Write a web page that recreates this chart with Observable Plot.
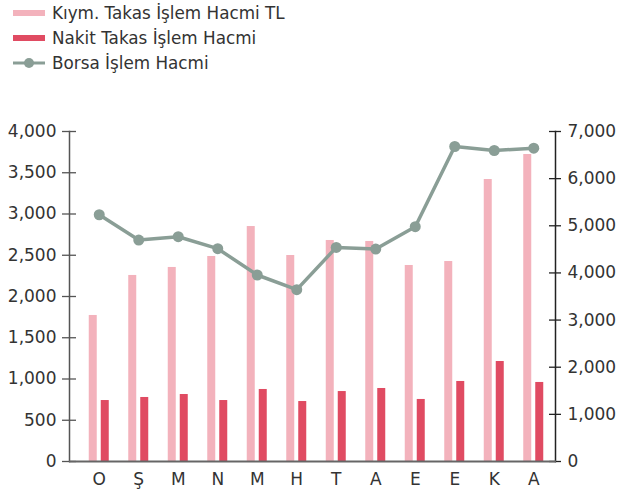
<!DOCTYPE html>
<html>
<head>
<meta charset="utf-8">
<script src="https://cdn.jsdelivr.net/npm/d3@7"></script>
<script src="https://cdn.jsdelivr.net/npm/@observablehq/plot@0.6"></script>
<style>
  body { margin: 0; background: #fff; font-family: "DejaVu Sans", sans-serif; }
  #legend { position: relative; height: 85px; width: 636px; }
  .item { position: absolute; left: 0; height: 20px; display: flex; align-items: center; font-size: 16.8px; color: #333; }
  .item span.label { position: absolute; left: 52px; white-space: nowrap; }
  .sw { position: absolute; left: 13px; width: 32px; }
</style>
</head>
<body>
<div id="legend"></div>
<div id="chart"></div>
<script>
const months = ["O", "Ş", "M", "N", "M", "H", "T", "A", "E", "E", "K", "A"];
const kiymTakas = [1770, 2255, 2352, 2485, 2848, 2497, 2679, 2667, 2376, 2424, 3418, 3721];
const nakitTakas = [739, 776, 812, 739, 873, 727, 848, 885, 752, 970, 1212, 958];
const borsa = [5234, 4698, 4768, 4514, 3956, 3645, 4541, 4507, 4980, 6682, 6597, 6647];
const leftTicks = [0, 500, 1000, 1500, 2000, 2500, 3000, 3500, 4000];
const rightTicks = [0, 1000, 2000, 3000, 4000, 5000, 6000, 7000];
const seriesNames = ["Kıym. Takas İşlem Hacmi TL", "Nakit Takas İşlem Hacmi", "Borsa İşlem Hacmi"];

const colPink = "#f3b2bc";
const colRed = "#e04b62";
const colGrey = "#8a9e96";
const ratio = 4000 / 7000;

// legend
const legend = document.getElementById("legend");
const rowsY = [3, 28, 53];
seriesNames.forEach((name, i) => {
  const it = document.createElement("div");
  it.className = "item";
  it.style.top = rowsY[i] + "px";
  it.style.width = "636px";
  let sw;
  if (i < 2) {
    sw = `<div class="sw" style="top:7px;height:6px;background:${i === 0 ? colPink : colRed}"></div>`;
  } else {
    sw = `<svg class="sw" style="top:0" width="32" height="20"><line x1="0" x2="32" y1="10" y2="10" stroke="${colGrey}" stroke-width="3"/><circle cx="16" cy="10" r="5" fill="${colGrey}"/></svg>`;
  }
  it.innerHTML = sw + `<span class="label">${name}</span>`;
  legend.appendChild(it);
});

const data = months.map((m, i) => ({i, m, k: kiymTakas[i], n: nakitTakas[i], b: borsa[i] * ratio}));
const fmt = d3.format(",");
const W = 636, H = 408, ML = 69, MR = 81;
const frameW = W - ML - MR;
const xIns = {left: 10, right: 2};
const bw = (frameW - xIns.left - xIns.right) / months.length;

const chart = Plot.plot({
  width: W,
  height: H,
  marginLeft: ML,
  marginRight: MR,
  marginTop: 46,
  marginBottom: 32,
  style: {fontFamily: "DejaVu Sans, sans-serif", fontSize: "17px", color: "#333", background: "transparent"},
  x: {type: "band", domain: d3.range(months.length), padding: 0, round: false, insetLeft: xIns.left, insetRight: xIns.right},
  y: {domain: [0, 4000]},
  marks: [
    Plot.barY(data, {x: "i", y: "k", fill: colPink, insetLeft: bw / 2 - 10, insetRight: bw / 2 + 2}),
    Plot.barY(data, {x: "i", y: "n", fill: colRed, insetLeft: bw / 2 + 2, insetRight: bw / 2 - 10}),
    Plot.line(data, {x: "i", y: "b", stroke: colGrey, strokeWidth: 3.5}),
    Plot.dot(data, {x: "i", y: "b", fill: colGrey, r: 5.5}),
    // left axis
    Plot.gridY(leftTicks, {y: d => d, stroke: "#555", strokeOpacity: 1, strokeWidth: 1.3, insetLeft: -7, insetRight: frameW - 7}),
    Plot.axisY(leftTicks, {anchor: "left", tickSize: 0, tickPadding: 13, tickFormat: fmt, label: null, fill: "#333"}),
    // right axis
    Plot.gridY(rightTicks, {y: d => d * ratio, stroke: "#222", strokeOpacity: 1, strokeWidth: 1.3, insetLeft: frameW - 6, insetRight: -6}),
    Plot.axisY(rightTicks.map(d => d * ratio), {anchor: "right", tickSize: 0, tickPadding: 12, tickFormat: d => fmt(Math.round(d / ratio)), label: null, fill: "#333"}),
    Plot.frame({anchor: "left", stroke: "#555", strokeWidth: 1.5}),
    Plot.frame({anchor: "right", stroke: "#222", strokeWidth: 1.5}),
    Plot.ruleY([0], {stroke: "#666", strokeWidth: 1.8, insetRight: -1}),
    Plot.axisX({anchor: "bottom", tickSize: 0, tickPadding: 11, tickFormat: i => months[i], label: null, fill: "#333"})
  ]
});
document.getElementById("chart").appendChild(chart);
</script>
</body>
</html>
